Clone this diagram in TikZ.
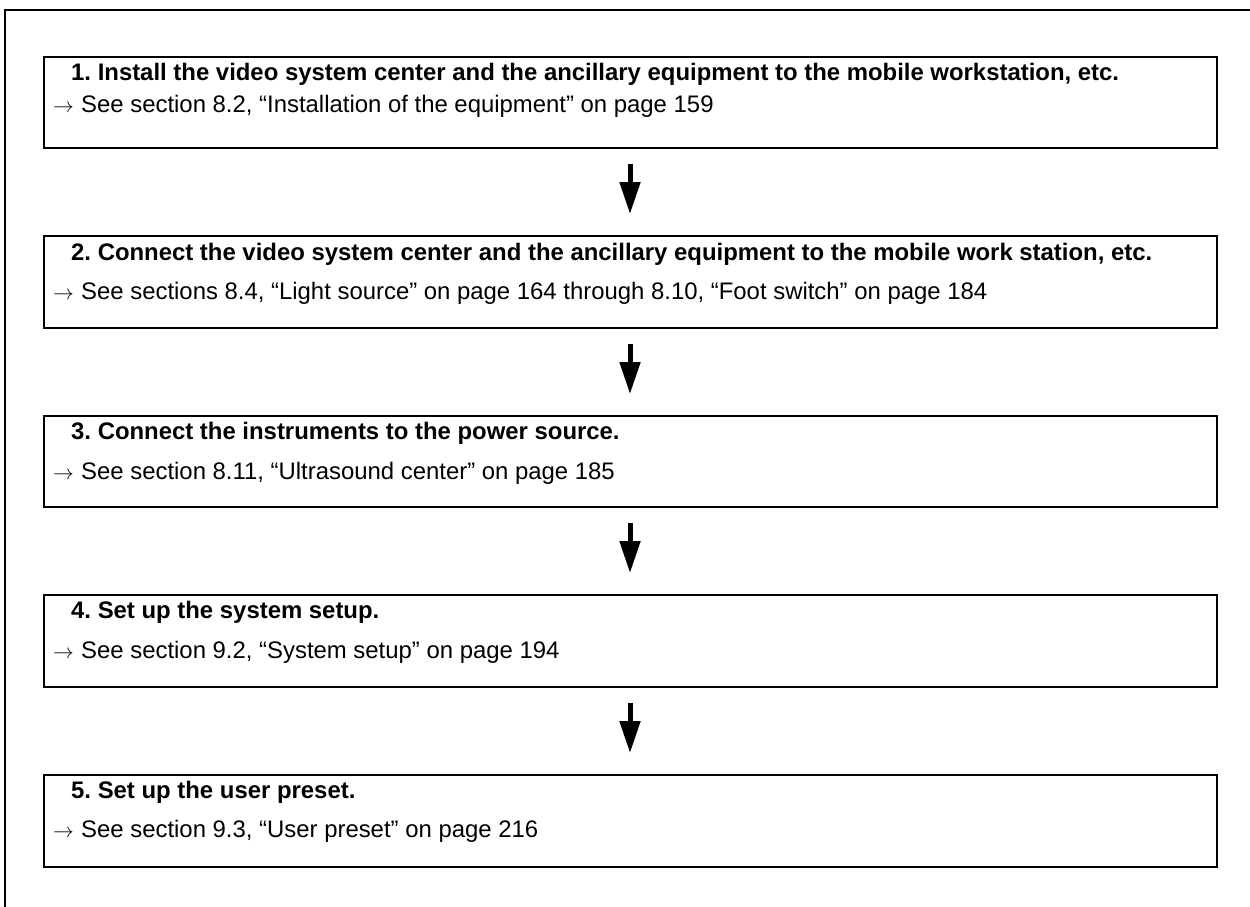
\documentclass[tikz,border=0pt]{standalone}
\usepackage{fontspec}
\setmainfont{Liberation Sans}
\usetikzlibrary{arrows.meta}
\newcommand{\seearrow}{\makebox[27pt][l]{\hspace{-1pt}\fontsize{22}{24}\selectfont$\rightarrow$}}
\begin{document}
\frenchspacing
\begin{tikzpicture}[x=1pt,y=-1pt,
  stepbox/.style={draw,line width=2.2pt,rectangle,inner sep=0pt,anchor=north west,minimum width=1173pt,minimum height=91pt},
  title/.style={anchor=base west,inner sep=0pt,font=\fontsize{23.9}{28}\selectfont\bfseries},
  ref/.style={anchor=base west,inner sep=0pt,font=\fontsize{23.9}{28}\selectfont},
  flow/.style={line width=5pt,-{Triangle[length=32pt,width=20pt]},shorten <=15pt,shorten >=21pt}]
\useasboundingbox (0,0) rectangle (1250,907);
\draw[line width=2.2pt] (5,907) -- (5,10) -- (1251,10);
% boxes
\node[stepbox] (b1) at (43,56) {};
\node[stepbox,minimum height=92pt] (b2) at (43,235) {};
\node[stepbox] (b3) at (43,415) {};
\node[stepbox,minimum height=92pt] (b4) at (43,594) {};
\node[stepbox,minimum height=92pt] (b5) at (43,774) {};
% texts
\node[title] (t1) at (71,81) {1. Install the video system center and the ancillary equipment to the mobile workstation, etc.};
\node[ref] (r1) at (54,112) {\seearrow See section 8.2, “Installation of the equipment” on page 159};
\node[title] (t2) at (71,260) {2. Connect the video system center and the ancillary equipment to the mobile work station, etc.};
\node[ref] (r2) at (54,299) {\seearrow See sections 8.4, “Light source” on page 164 through 8.10, “Foot switch” on page 184};
\node[title] (t3) at (71,439) {3. Connect the instruments to the power source.};
\node[ref] (r3) at (54,479) {\seearrow See section 8.11, “Ultrasound center” on page 185};
\node[title] (t4) at (71,618) {4. Set up the system setup.};
\node[ref] (r4) at (54,658) {\seearrow See section 9.2, “System setup” on page 194};
\node[title] (t5) at (71,798) {5. Set up the user preset.};
\node[ref] (r5) at (54,837) {\seearrow See section 9.3, “User preset” on page 216};
% arrows
\draw[flow] (b1.south -| 630,0) -- (b2.north -| 630,0);
\draw[flow] (b2.south -| 630,0) -- (b3.north -| 630,0);
\draw[flow] (b3.south -| 630,0) -- (b4.north -| 630,0);
\draw[flow] (b4.south -| 630,0) -- (b5.north -| 630,0);
\end{tikzpicture}
\end{document}
